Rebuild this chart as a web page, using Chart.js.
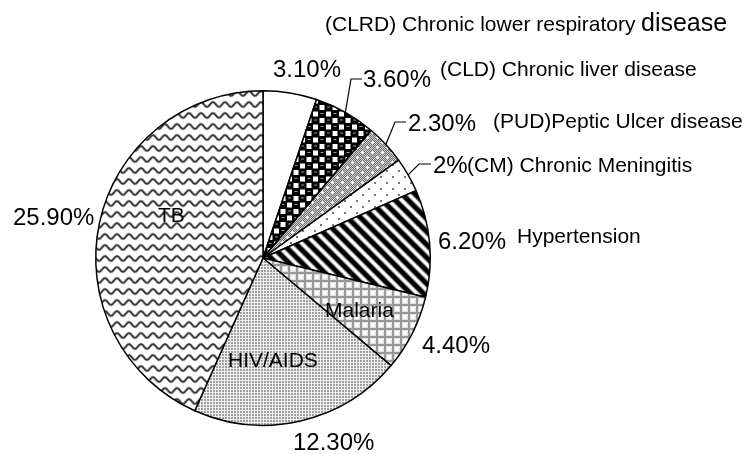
<!DOCTYPE html>
<html><head><meta charset="utf-8">
<script src="https://cdn.jsdelivr.net/npm/chart.js@4"></script>
<style>html,body{margin:0;padding:0;background:#fff}#wrap{width:745px;height:454px}</style>
</head><body><div id="wrap"><canvas id="c" width="745" height="454"></canvas></div>
<script>
// ---- data ----
const categories = ['(CLRD) Chronic lower respiratory disease', '(CLD) Chronic liver disease', '(PUD)Peptic Ulcer disease', '(CM) Chronic Meningitis', 'Hypertension', 'Malaria', 'HIV/AIDS', 'TB'];
const values = [3.10, 3.60, 2.30, 2.00, 6.20, 4.40, 12.30, 25.90];
const valueLabels = ['3.10%', '3.60%', '2.30%', '2%', '6.20%', '4.40%', '12.30%', '25.90%'];

const canvas = document.getElementById('c');
const ctx0 = canvas.getContext('2d');
const FONT = '"Liberation Sans", Arial, sans-serif';

function tile(w, h, draw) {
  const c = document.createElement('canvas');
  c.width = w; c.height = h;
  const g = c.getContext('2d');
  draw(g, w, h);
  return ctx0.createPattern(c, 'repeat');
}

// patterns
const pWhite = '#ffffff';
const pSpheres = tile(13, 13, (g) => {
  g.fillStyle = '#000'; g.fillRect(0, 0, 13, 13);
  g.fillStyle = '#fff'; g.fillRect(7.5, 1, 5, 5); g.fillRect(1, 7.5, 5, 5);
  g.fillStyle = '#9a9a9a'; g.fillRect(2, 2.5, 3, 1); g.fillRect(8.5, 9, 3, 1);
});
const pGrayDots = tile(10, 10, (g) => {
  for (let i = 0; i < 10; i++) for (let j = 0; j < 10; j++) {
    g.fillStyle = ((i + j) % 2) ? '#6e6e6e' : '#d0d0d0';
    g.fillRect(i, j, 1, 1);
  }
  g.fillStyle = '#fff';
  [[2, 2], [7, 7]].forEach(([x, y]) => { g.fillRect(x - 1, y, 3, 1); g.fillRect(x, y - 1, 1, 3); });
});
const pSparse = tile(12, 12, (g) => {
  g.fillStyle = '#fff'; g.fillRect(0, 0, 12, 12);
  g.fillStyle = '#777'; g.fillRect(2, 2, 2, 2); g.fillRect(8, 8, 2, 2);
});
const pStripes = tile(13, 13, (g) => {
  g.fillStyle = '#fff'; g.fillRect(0, 0, 13, 13);
  for (const [lw, col] of [[6.5, '#888'], [4.2, '#000']]) {
    g.strokeStyle = col; g.lineWidth = lw;
    for (let k = -1; k <= 1; k++) {
      g.beginPath(); g.moveTo(-13, -13 + k * 13); g.lineTo(26, 26 + k * 13); g.stroke();
    }
  }
});
const pGrid = tile(8, 8, (g) => {
  g.fillStyle = '#fff'; g.fillRect(0, 0, 8, 8);
  g.fillStyle = '#999'; g.fillRect(0, 0, 8, 2); g.fillRect(0, 0, 2, 8);
  g.fillStyle = '#e0e0e0'; g.fillRect(2, 2, 6, 6);
  g.fillStyle = '#fff'; g.fillRect(3, 3, 4, 4);
});
const pFineDots = tile(3, 3, (g) => {
  g.fillStyle = '#eeeeee'; g.fillRect(0, 0, 3, 3);
  g.fillStyle = '#a0a0a0'; g.fillRect(0, 0, 2, 2);
});
const pWaves = tile(12, 11, (g) => {
  g.fillStyle = '#fff'; g.fillRect(0, 0, 12, 11);
  for (const [lw, col] of [[3, '#b0b0b0'], [1.5, '#3a3a3a']]) {
    g.strokeStyle = col; g.lineWidth = lw; g.beginPath();
    for (let x = -1; x <= 13; x += 0.5) {
      const y = 5.5 + 2.3 * Math.sin(2 * Math.PI * x / 12);
      if (x === -1) g.moveTo(x, y); else g.lineTo(x, y);
    }
    g.stroke();
  }
});
const fills = [pWhite, pSpheres, pGrayDots, pSparse, pStripes, pGrid, pFineDots, pWaves];

// ---- annotation layout (text positions) ----
const texts = [
  { t: categories[0].replace(/disease$/, ''), x: 325, y: 31, s: 21 },
  { t: 'disease', x: 641, y: 31, s: 25 },
  { t: valueLabels[0], x: 273, y: 77, s: 24 },
  { t: valueLabels[1], x: 363, y: 87, s: 24 },
  { t: categories[1], x: 440, y: 76, s: 21 },
  { t: valueLabels[2], x: 408, y: 131, s: 24 },
  { t: categories[2], x: 493, y: 128, s: 21 },
  { t: valueLabels[3], x: 433, y: 173, s: 24 },
  { t: categories[3], x: 467, y: 172, s: 21 },
  { t: valueLabels[4], x: 438, y: 249, s: 24 },
  { t: categories[4], x: 517, y: 243, s: 21 },
  { t: valueLabels[5], x: 422, y: 353, s: 24 },
  { t: valueLabels[6], x: 293, y: 450, s: 24 },
  { t: valueLabels[7], x: 13, y: 225, s: 24 },
  { t: categories[7], x: 158, y: 222, s: 21 },
  { t: categories[6], x: 228, y: 367, s: 21 },
  { t: categories[5], x: 325, y: 317, s: 21 }
];
const leaders = [
  { i: 1, ex: 351, ey: 79, hx: 362 },
  { i: 2, ex: 395, ey: 122, hx: 406 },
  { i: 3, ex: 419, ey: 164, hx: 431 }
];

const labelPlugin = {
  id: 'labels',
  afterDatasetsDraw(chart) {
    const ctx = chart.ctx;
    const meta = chart.getDatasetMeta(0);
    ctx.save();
    ctx.fillStyle = '#000';
    ctx.textAlign = 'left';
    ctx.textBaseline = 'alphabetic';
    texts.forEach(o => { ctx.font = o.s + 'px ' + FONT; ctx.fillText(o.t, o.x, o.y); });
    ctx.strokeStyle = '#000';
    ctx.lineWidth = 1.2;
    leaders.forEach(l => {
      const p = meta.data[l.i].getProps(['x', 'y', 'startAngle', 'endAngle', 'outerRadius'], true);
      const m = (p.startAngle + p.endAngle) / 2;
      const sx = p.x + Math.cos(m) * p.outerRadius;
      const sy = p.y + Math.sin(m) * p.outerRadius;
      ctx.beginPath(); ctx.moveTo(sx, sy); ctx.lineTo(l.ex, l.ey); ctx.lineTo(l.hx, l.ey); ctx.stroke();
    });
    ctx.restore();
  }
};

new Chart(canvas, {
  type: 'pie',
  data: {
    labels: categories,
    datasets: [{
      data: values,
      backgroundColor: fills,
      borderColor: '#000',
      borderWidth: 1.5
    }]
  },
  options: {
    responsive: false,
    devicePixelRatio: 1,
    animation: false,
    layout: { padding: { left: 95, right: 314, top: 90, bottom: 28 } },
    plugins: { legend: { display: false }, tooltip: { enabled: false } }
  },
  plugins: [labelPlugin]
});
</script>
</body></html>
